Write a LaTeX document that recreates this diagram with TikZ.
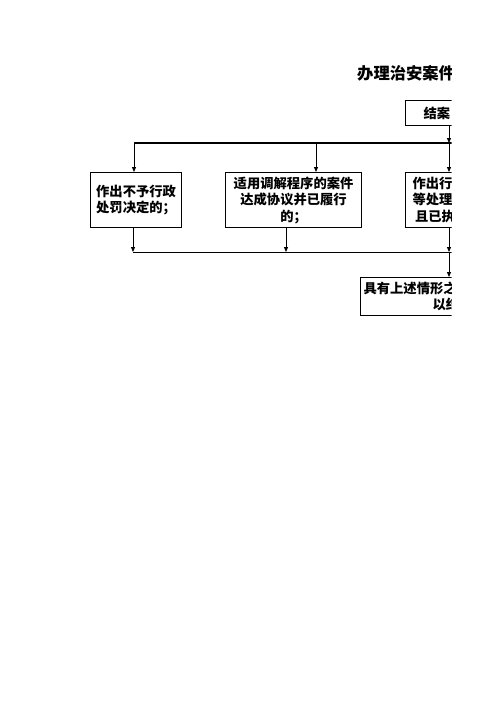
\documentclass[tikz,border=0pt]{standalone}
\usepackage{fontspec}
\newfontfamily\cjk{Noto Sans CJK SC}
\usetikzlibrary{arrows.meta}
\begin{document}
\begin{tikzpicture}[x=1pt,y=-1pt,
  box/.style={draw,line width=1.1pt,inner ysep=0pt,font=\cjk\bfseries\fontsize{13.3}{16.5}\selectfont},
  cbox/.style={box,align=center,inner xsep=0pt},
  lbox/.style={box,align=left},
  arr/.style={line width=0.8pt,-{Triangle[length=5pt,width=4pt]}},
  bus/.style={line width=0.8pt},
  thickbus/.style={line width=1.7pt}]
\useasboundingbox (0,0) rectangle (496,702);
\begin{scope}
\clip (0,0) rectangle (451.5,702);
\node[anchor=west,inner sep=0pt,font=\cjk\bfseries\fontsize{16.3}{18}\selectfont] (title) at (357,73) {办理治安案件};
\node[lbox,anchor=north west,minimum height=25pt,inner xsep=18pt,text width=100pt] (b0) at (405,100) {结案};
\node[cbox,anchor=north west,minimum width=91pt,minimum height=55pt] (b1) at (90,172) {作出不予行政\\处罚决定的；};
\node[cbox,anchor=north west,minimum width=136pt,minimum height=55pt] (b2) at (225,172) {适用调解程序的案件\\达成协议并已履行\\的；};
\node[lbox,anchor=north west,minimum height=55pt,inner xsep=7pt,text width=120pt] (b3) at (405,172) {作出行政处罚\\等处理决定，\\\hspace{2.5pt}且已执行的；};
\node[lbox,anchor=north west,minimum height=38pt,inner xsep=3pt,text width=200pt] (b4) at (360,277) {具有上述情形之一的，\\\hspace{69pt}以结案。};
\coordinate (tL) at (134,143);
\coordinate (tM) at (316,143);
\coordinate (tR) at (449,143);
\coordinate (tE) at (460,143);
\coordinate (uL) at (133,252);
\coordinate (uM) at (286,252);
\coordinate (uR) at (449,252);
\coordinate (uE) at (460,252);
\draw[thickbus] (tL) -- (tE);
\draw[arr] (b0.south -| tR) -- (tR);
\draw[arr] (tL) -- (tL |- b1.north);
\draw[arr] (tM) -- (tM |- b2.north);
\draw[arr] (tR) -- (tR |- b3.north);
\draw[arr] (uL |- b1.south) -- (uL);
\draw[arr] (uM |- b2.south) -- (uM);
\draw[arr] (uR |- b3.south) -- (uR);
\draw[bus] (uL) -- (uE);
\draw[arr] (uR) -- (uR |- b4.north);
\end{scope}
\end{tikzpicture}
\end{document}
